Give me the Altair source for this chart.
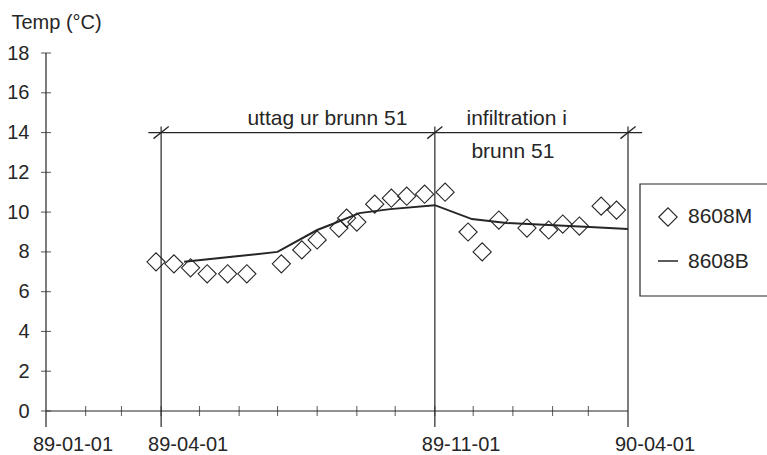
import altair as alt
import pandas as pd

# Observation well 8608M (diamonds)
m_dates = ["1989-03-28", "1989-04-11", "1989-04-24", "1989-05-07", "1989-05-23",
           "1989-06-07", "1989-07-04", "1989-07-20", "1989-08-01", "1989-08-18",
           "1989-08-24", "1989-09-01", "1989-09-15", "1989-09-28", "1989-10-10",
           "1989-10-24", "1989-11-09", "1989-11-27", "1989-12-08", "1989-12-21",
           "1990-01-12", "1990-01-29", "1990-02-09", "1990-02-22", "1990-03-11",
           "1990-03-23"]
m_temps = [7.5, 7.4, 7.2, 6.9, 6.9, 6.9, 7.4, 8.1, 8.6, 9.2,
           9.7, 9.5, 10.4, 10.7, 10.8, 10.9, 11.0, 9.0, 8.0, 9.6,
           9.2, 9.1, 9.4, 9.3, 10.3, 10.1]

# Observation well 8608B (line)
b_dates = ["1989-04-19", "1989-07-01", "1989-08-01", "1989-08-13", "1989-09-03",
           "1989-09-27", "1989-11-01", "1989-11-30", "1989-12-27", "1990-03-02",
           "1990-04-01"]
b_temps = [7.5, 8.0, 9.1, 9.4, 9.95, 10.15, 10.35, 9.65, 9.45, 9.25, 9.15]

# Axes
y_ticks = [0, 2, 4, 6, 8, 10, 12, 14, 16, 18]
month_ticks = ["1989-02-01", "1989-03-01", "1989-04-01", "1989-05-01", "1989-06-01",
               "1989-07-01", "1989-08-01", "1989-09-01", "1989-10-01", "1989-11-01",
               "1989-12-01", "1990-01-01", "1990-02-01", "1990-03-01"]
label_dates = ["1989-01-01", "1989-04-01", "1989-11-01", "1990-04-01"]
date_labels = ["89-01-01", "89-04-01", "89-11-01", "90-04-01"]

# Operating periods
phase_dates = ["1989-04-01", "1989-11-01", "1990-04-01"]
phase_level = 14
phase_span = ["1989-03-22", "1990-04-12"]
above_dates = ["1989-08-09", "1990-01-04"]
above_text = ["uttag ur brunn 51", "infiltration i"]
below_dates = ["1990-01-01"]
below_text = ["brunn 51"]

legend_names = ["8608M", "8608B"]

FONT = "Liberation Sans"
INK = "#262626"
W, H = 582, 358
BELOW = H + 16  # axis lines run a little below the zero line

x_scale = alt.Scale(domain=[alt.DateTime(year=1989, month=1, date=1, utc=True),
                            alt.DateTime(year=1990, month=4, date=1, utc=True)])
y_scale = alt.Scale(domain=[0, 18], nice=False)
y_axis = alt.Axis(values=y_ticks, domain=False, ticks=False, grid=False,
                  labelFont=FONT, labelFontSize=20, labelColor=INK, labelPadding=17,
                  title="Temp (°C)", titleAngle=0, titleAlign="left",
                  titleBaseline="alphabetic", titleX=-35, titleY=-25,
                  titleFont=FONT, titleFontSize=20, titleFontWeight="normal",
                  titleColor=INK)


def X(field="date"):
    return alt.X(f"{field}:T", scale=x_scale, axis=None)


def Y(field="temp"):
    return alt.Y(f"{field}:Q", scale=y_scale, axis=y_axis)


m_df = pd.DataFrame({"date": m_dates, "temp": m_temps})
b_df = pd.DataFrame({"date": b_dates, "temp": b_temps})

# axis lines and crossing ticks
y_line = alt.Chart(pd.DataFrame({"date": [label_dates[0]]})).mark_rule(
    color=INK, strokeWidth=1.2).encode(x=X(), y=alt.value(0), y2=alt.value(BELOW))
x_line = alt.Chart(pd.DataFrame({"date": [label_dates[0]], "end": [label_dates[-1]],
                                 "temp": [0]})).mark_rule(
    color=INK, strokeWidth=1.2).encode(x=X(), x2="end:T", y=Y())
x_ticks = alt.Chart(pd.DataFrame({"date": month_ticks, "temp": [0] * len(month_ticks)})).mark_tick(
    orient="vertical", size=10, thickness=1.1, color=INK).encode(x=X(), y=Y())
y_tick_marks = alt.Chart(pd.DataFrame({"date": [label_dates[0]] * len(y_ticks),
                                       "temp": y_ticks})).mark_tick(
    orient="horizontal", size=10, thickness=1.1, color=INK).encode(x=X(), y=Y())
x_labels = alt.Chart(pd.DataFrame({"date": label_dates, "label": date_labels})).mark_text(
    align="left", baseline="alphabetic", dx=-13, font=FONT, fontSize=20, color=INK).encode(
    x=X(), y=alt.value(H + 40), text="label:N")

# period boundaries
phase_lines = alt.Chart(pd.DataFrame({"date": phase_dates,
                                      "temp": [phase_level + 0.3] * 3})).mark_rule(
    color=INK, strokeWidth=1.2).encode(x=X(), y=Y(), y2=alt.value(BELOW))
phase_bar = alt.Chart(pd.DataFrame({"date": [phase_span[0]], "end": [phase_span[1]],
                                    "temp": [phase_level]})).mark_rule(
    color=INK, strokeWidth=1.2).encode(x=X(), x2="end:T", y=Y())
slashes = alt.Chart(pd.DataFrame({"date": phase_dates,
                                  "temp": [phase_level] * 3})).mark_point(
    shape="M -1 0.8 L 1 -0.8", size=230, filled=False, color=INK, strokeWidth=1.3,
    opacity=1).encode(x=X(), y=Y())
text_above = alt.Chart(pd.DataFrame({"date": above_dates, "label": above_text,
                                     "temp": [phase_level] * 2})).mark_text(
    align="center", baseline="alphabetic", dy=-8, font=FONT, fontSize=21, color=INK).encode(
    x=X(), y=Y(), text="label:N")
text_below = alt.Chart(pd.DataFrame({"date": below_dates, "label": below_text,
                                     "temp": [phase_level]})).mark_text(
    align="center", baseline="alphabetic", dy=25, font=FONT, fontSize=21, color=INK).encode(
    x=X(), y=Y(), text="label:N")

# data series
points = alt.Chart(m_df).mark_point(
    shape="diamond", size=330, filled=False, color=INK, strokeWidth=1.1, opacity=1).encode(
    x=X(), y=Y())
line = alt.Chart(b_df).mark_line(color=INK, strokeWidth=2).encode(x=X(), y=Y())

# legend box
one = pd.DataFrame({"k": [0]})
leg_box = alt.Chart(one).mark_rect(fill="white", stroke=INK, strokeWidth=1.2).encode(
    x=alt.value(594), x2=alt.value(730), y=alt.value(131), y2=alt.value(243))
leg_diamond = alt.Chart(one).mark_point(
    shape="diamond", size=340, filled=False, color=INK, strokeWidth=1.1, opacity=1).encode(
    x=alt.value(622), y=alt.value(164))
leg_rule = alt.Chart(one).mark_rule(color=INK, strokeWidth=1.5).encode(
    x=alt.value(612), x2=alt.value(632), y=alt.value(208))
leg_text = alt.Chart(pd.DataFrame({"label": legend_names, "row": [164, 209]})).mark_text(
    align="left", baseline="middle", font=FONT, fontSize=21, color=INK).encode(
    x=alt.value(642), y=alt.Y("row:Q", scale=None, axis=None), text="label:N")

chart = alt.layer(
    y_line, x_line, x_ticks, y_tick_marks, x_labels,
    phase_lines, phase_bar, slashes, text_above, text_below,
    line, points,
    leg_box, leg_diamond, leg_rule, leg_text,
).properties(
    width=W, height=H,
    padding={"left": 46, "top": 53, "right": 139, "bottom": 44},
    autosize="none",
    background="white",
).configure_view(stroke=None)

chart.save("out.html", embed_options={"renderer": "svg", "actions": False})
